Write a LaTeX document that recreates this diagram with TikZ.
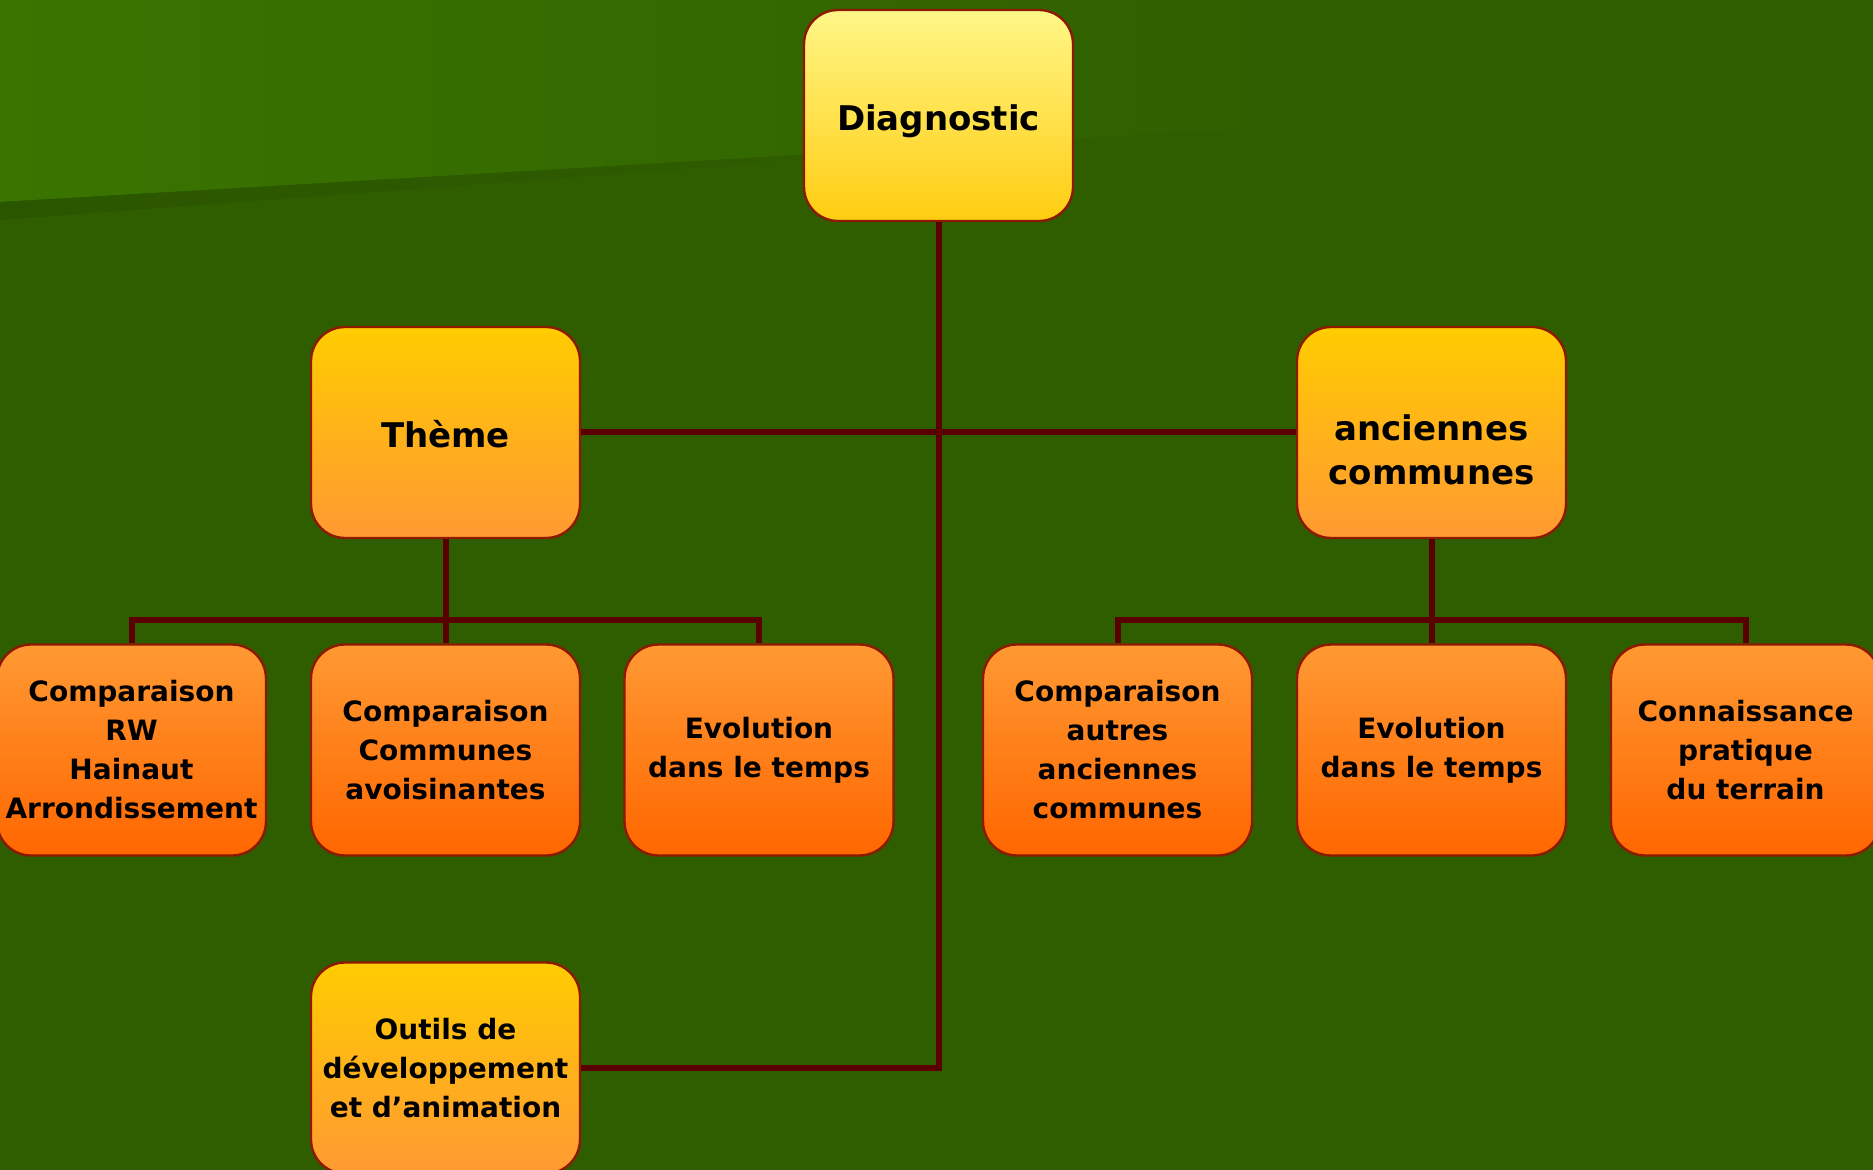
\documentclass[tikz,border=0pt]{standalone}
\usepackage{fontspec}
\setmainfont{DejaVu Sans}

\definecolor{bggreen}{HTML}{2F5E00}
\definecolor{lightgreen}{HTML}{3A7500}
\definecolor{stripgreen}{HTML}{2B5600}
\definecolor{linkred}{HTML}{5A0000}
\definecolor{boxline}{HTML}{8B1A00}
\definecolor{paleyellow}{HTML}{FFF788}
\definecolor{gold}{HTML}{FFCC10}
\definecolor{amber}{HTML}{FFCC00}
\definecolor{softorange}{HTML}{FF9933}
\definecolor{deeporange}{HTML}{FF6600}

\tikzset{
  box/.style={draw=boxline, line width=1.2pt, rounded corners=17pt,
    minimum width=134.5pt, minimum height=105.5pt, align=center,
    inner sep=2pt, text=black, font=\bfseries\fontsize{14}{19.5}\selectfont},
  bigtext/.style={font=\bfseries\fontsize{17}{22}\selectfont, align=center, text=black},
  rootbox/.style={box, top color=paleyellow, bottom color=gold},
  themebox/.style={box, top color=amber, bottom color=softorange},
  leafbox/.style={box, top color=softorange, bottom color=deeporange},
  link/.style={draw=linkred, line width=3pt}
}

\begin{document}
\begin{tikzpicture}[x=0.5pt,y=-0.5pt]
  % background
  \fill[bggreen] (0,0) rectangle (1873,1170);
  \useasboundingbox (0,0) rectangle (1873,1170);
  \shade[left color=lightgreen, right color=bggreen] (0,0) -- (1320,0) -- (1320,124) -- (0,202) -- cycle;
  \shade[left color=stripgreen, right color=bggreen] (0,202) -- (1100,138) -- (0,220) -- cycle;

  % nodes
  \node[rootbox, label={[bigtext, yshift=-3pt]center:Diagnostic}] (diag) at (938.5,115.5) {};
  \node[themebox, label={[bigtext, yshift=-1pt]center:Thème}] (theme) at (445.5,432.5) {};
  \node[themebox, label={[bigtext, yshift=-8.5pt]center:anciennes\\communes}] (anc) at (1431.5,432.5) {};
  \node[themebox] (outils) at (445.5,1068) {Outils de\\développement\\ et d’animation};

  \node[leafbox] (cmprw) at (131.5,750) {Comparaison\\RW\\Hainaut\\Arrondissement};
  \node[leafbox] (cmpcom) at (445.5,750) {Comparaison\\Communes\\avoisinantes};
  \node[leafbox] (evola) at (759,750) {Evolution\\dans le temps};
  \node[leafbox] (cmpanc) at (1117.5,750) {Comparaison\\autres\\anciennes\\communes};
  \node[leafbox] (evolb) at (1431.5,750) {Evolution\\dans le temps};
  \node[leafbox] (terrain) at (1745.5,750) {Connaissance\\pratique\\du terrain};

  % links
  \path[link] (diag.south) |- (outils.east);
  \path[link] (theme.east) -- (anc.west);
  \path[link] (theme.south) -- (cmpcom.north);
  \path[link] (theme.south) -- ++(0,81) -| (cmprw.north);
  \path[link] (theme.south) -- ++(0,81) -| (evola.north);
  \path[link] (anc.south) -- (evolb.north);
  \path[link] (anc.south) -- ++(0,81) -| (cmpanc.north);
  \path[link] (anc.south) -- ++(0,81) -| (terrain.north);
\end{tikzpicture}
\end{document}
